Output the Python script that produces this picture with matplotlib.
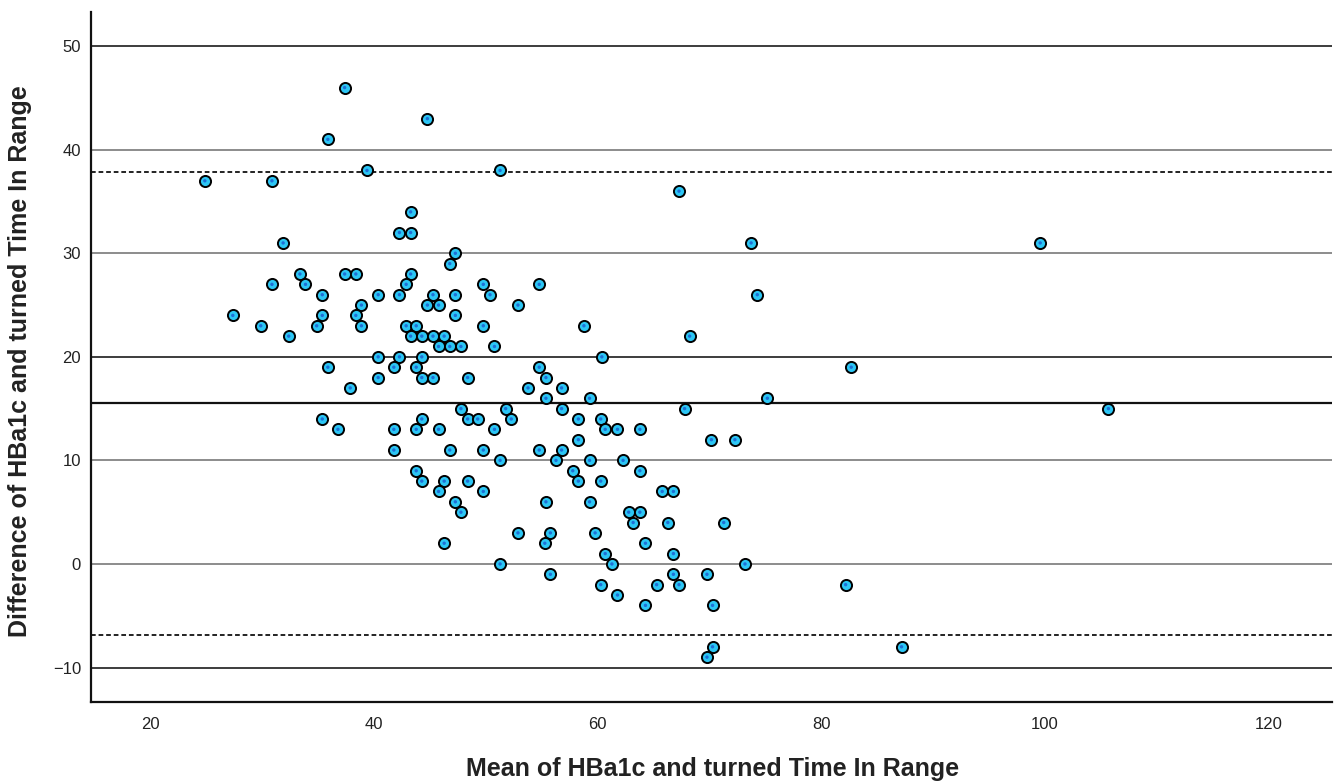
'''
Bland-Altman plot: HBa1c vs. turned Time In Range
'''

# Import libraries
import matplotlib
matplotlib.use('Agg')
import matplotlib.pyplot as plt
import numpy as np

plt.rcParams['font.family'] = ['Liberation Sans', 'DejaVu Sans']

# Data: mean of the two methods and their difference
mean_vals = [
    37.4, 44.8, 35.9, 39.4, 51.3, 24.9, 30.9, 67.3, 43.3, 42.3, 43.3,
    31.9, 73.75, 99.6, 47.3, 46.8,
    33.4, 37.4, 38.4, 43.3,
    30.9, 33.9, 42.9, 49.8, 54.8,
    35.4, 40.4, 42.3, 45.3, 47.3, 50.4, 74.3,
    38.9, 44.8, 45.8, 52.9,
    27.4, 35.4, 38.4, 47.3,
    29.9, 34.9, 38.9, 42.9, 43.8, 49.8, 58.8,
    32.4, 43.3, 44.3, 45.3, 46.3, 68.25,
    45.8, 46.8, 47.8, 50.8,
    40.4, 42.3, 44.3, 60.4,
    35.9, 41.8, 43.8, 54.8, 82.7,
    40.4, 44.3, 45.3, 48.4, 55.4,
    37.9, 53.8, 56.8,
    55.4, 59.3, 75.2,
    47.8, 51.8, 56.8, 67.8, 105.7,
    35.4, 44.3, 48.4, 49.3, 52.3, 58.3, 60.3,
    36.8, 41.8, 43.8, 45.8, 50.8, 60.7, 61.8, 63.8,
    58.3, 70.2, 72.3,
    41.8, 46.8, 49.8, 54.8, 56.8,
    51.3, 56.3, 59.3, 62.3,
    43.8, 57.8, 63.8,
    44.3, 46.3, 48.4, 58.3, 60.3,
    45.8, 49.8, 65.8, 66.8,
    47.3, 55.4, 59.3,
    47.8, 62.8, 63.8,
    63.2, 66.3, 71.3,
    52.9, 55.8, 59.8,
    46.3, 55.3, 64.3,
    60.7, 66.8,
    51.3, 61.3, 73.2,
    55.8, 66.8, 69.8,
    60.3, 65.3, 67.3, 82.2,
    61.8,
    64.3, 70.3,
    70.3, 87.2,
    69.8,
]
diff_vals = [
    46, 43, 41, 38, 38, 37, 37, 36, 34, 32, 32,
    31, 31, 31, 30, 29,
    28, 28, 28, 28,
    27, 27, 27, 27, 27,
    26, 26, 26, 26, 26, 26, 26,
    25, 25, 25, 25,
    24, 24, 24, 24,
    23, 23, 23, 23, 23, 23, 23,
    22, 22, 22, 22, 22, 22,
    21, 21, 21, 21,
    20, 20, 20, 20,
    19, 19, 19, 19, 19,
    18, 18, 18, 18, 18,
    17, 17, 17,
    16, 16, 16,
    15, 15, 15, 15, 15,
    14, 14, 14, 14, 14, 14, 14,
    13, 13, 13, 13, 13, 13, 13, 13,
    12, 12, 12,
    11, 11, 11, 11, 11,
    10, 10, 10, 10,
    9, 9, 9,
    8, 8, 8, 8, 8,
    7, 7, 7, 7,
    6, 6, 6,
    5, 5, 5,
    4, 4, 4,
    3, 3, 3,
    2, 2, 2,
    1, 1,
    0, 0, 0,
    -1, -1, -1,
    -2, -2, -2, -2,
    -3,
    -4, -4,
    -8, -8,
    -9,
]

# Reference lines (mean difference and limits of agreement)
mean_diff = 15.5
upper_loa = 37.85
lower_loa = -6.9

x_ticks = [20, 40, 60, 80, 100, 120]
y_ticks = [-10, 0, 10, 20, 30, 40, 50]
dark_grid = [50, 20, -10]

# Create figure
fig = plt.figure(figsize=(13.35, 7.84), dpi=100)
ax = fig.add_axes([0.068, 0.105, 0.9298, 0.8797])

# Horizontal grid lines
for yt in y_ticks:
    col = '#3c3c3c' if yt in dark_grid else '#8c8c8c'
    ax.axhline(yt, color=col, lw=1.4, zorder=1)

ax.axhline(mean_diff, color='#111111', lw=1.6, zorder=1)
ax.axhline(upper_loa, color='#111111', lw=1.3, ls=(0, (2.6, 1.6)), zorder=1)
ax.axhline(lower_loa, color='#111111', lw=1.3, ls=(0, (2.6, 1.6)), zorder=1)

# Points: cyan circles with black rim and a small blue centre
ax.scatter(mean_vals, diff_vals, s=64, facecolor='#2cc6f4', edgecolor='black',
           linewidths=1.4, zorder=3)
ax.scatter(mean_vals, diff_vals, s=6, facecolor='#1f6fd6', edgecolor='none',
           zorder=4)

ax.set_xlim(14.7, 125.7)
ax.set_ylim(-13.3, 53.3)
ax.set_xticks(x_ticks)
ax.set_yticks(y_ticks)
ax.tick_params(axis='both', length=0, labelsize=12, colors='#222222')
ax.tick_params(axis='x', pad=11)
ax.tick_params(axis='y', pad=7)

for side in ['top', 'right']:
    ax.spines[side].set_visible(False)
for side in ['left', 'bottom']:
    ax.spines[side].set_linewidth(1.6)
    ax.spines[side].set_color('#111111')

fig.text(0.534, 0.004, 'Mean of HBa1c and turned Time In Range',
         ha='center', va='bottom', fontsize=18, fontweight='bold', color='#222222')
fig.text(0.006, 0.54, 'Difference of HBa1c and turned Time In Range',
         ha='left', va='center', rotation=90, fontsize=18, fontweight='bold',
         color='#222222')

# Save plot
plt.savefig('out.png', dpi=100)
